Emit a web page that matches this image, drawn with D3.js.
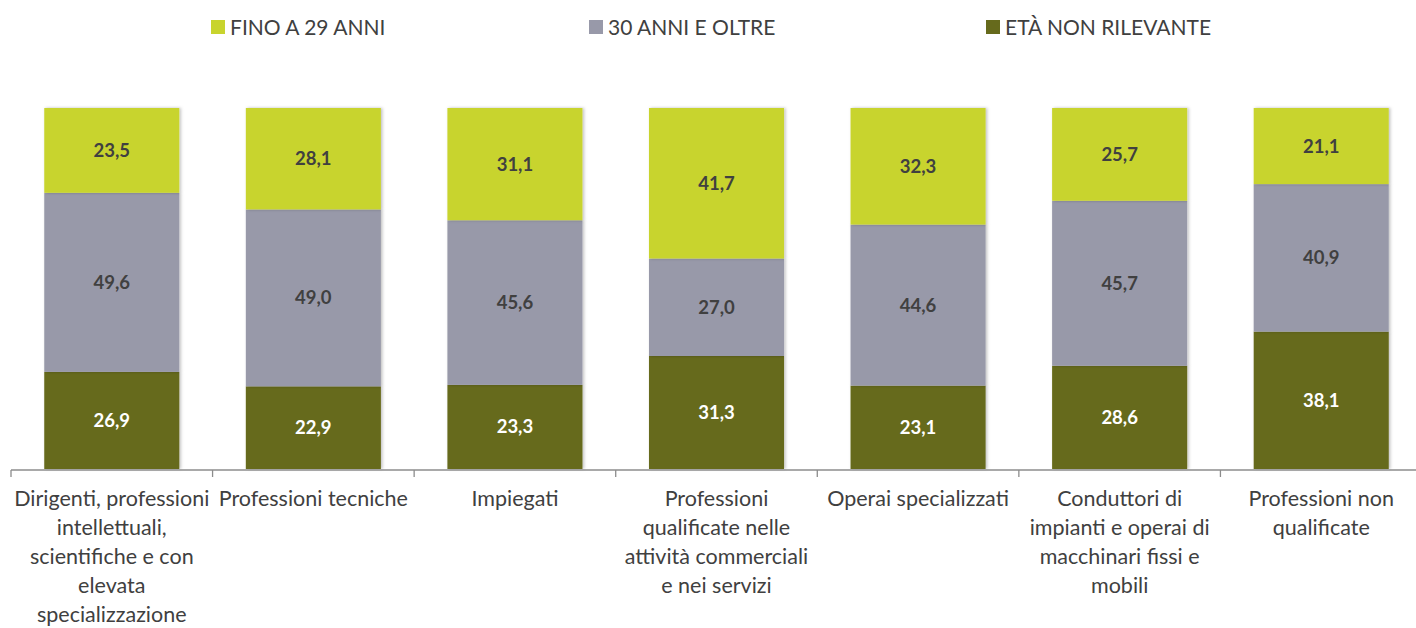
<!DOCTYPE html>
<html>
<head>
<meta charset="utf-8">
<script src="https://cdn.jsdelivr.net/npm/d3@7"></script>
<style>
  body { margin: 0; background: #fff; }
  svg { display: block; font-family: Lato, "Open Sans", sans-serif; }
</style>
</head>
<body>
<svg id="chart"></svg>
<script>
// categories (line breaks as they appear under the axis)
const categories = [
    "Dirigenti, professioni\nintellettuali,\nscientifiche e con\nelevata\nspecializzazione",
    "Professioni tecniche",
    "Impiegati",
    "Professioni\nqualificate nelle\nattività commerciali\ne nei servizi",
    "Operai specializzati",
    "Conduttori di\nimpianti e operai di\nmacchinari fissi e\nmobili",
    "Professioni non\nqualificate"
];

const seriesNames = ["ETÀ NON RILEVANTE", "30 ANNI E OLTRE", "FINO A 29 ANNI"];
const legendOrder = ["FINO A 29 ANNI", "30 ANNI E OLTRE", "ETÀ NON RILEVANTE"];

// values, stacked from the bottom
const etaNonRilevante = [26.9, 22.9, 23.3, 31.3, 23.1, 28.6, 38.1];
const trentaEOltre = [49.6, 49.0, 45.6, 27.0, 44.6, 45.7, 40.9];
const finoA29 = [23.5, 28.1, 31.1, 41.7, 32.3, 25.7, 21.1];

const colors = {
    "FINO A 29 ANNI": "#c8d42e",
    "30 ANNI E OLTRE": "#9899a9",
    "ETÀ NON RILEVANTE": "#666a1c"
};
const labelColors = {
    "FINO A 29 ANNI": "#404040",
    "30 ANNI E OLTRE": "#404040",
    "ETÀ NON RILEVANTE": "#ffffff"
};

const width = 1416, height = 628;
const marginLeft = 11, marginRight = -6, marginTop = 108, marginBottom = 159;

const svg = d3.select("#chart")
    .attr("width", width)
    .attr("height", height);

const rows = categories.map((c, i) => ({
    cat: c,
    "ETÀ NON RILEVANTE": etaNonRilevante[i],
    "30 ANNI E OLTRE": trentaEOltre[i],
    "FINO A 29 ANNI": finoA29[i]
}));

// normalise to 100 like the original
const stack = d3.stack().keys(seriesNames).offset(d3.stackOffsetExpand);
const stacked = stack(rows);

const x = d3.scaleBand()
    .domain(categories)
    .range([marginLeft, width - marginRight])
    .paddingInner(0.33)
    .paddingOuter(0.165);

const y = d3.scaleLinear()
    .domain([0, 1])
    .range([height - marginBottom, marginTop]);

// soft shadow like the original
const defs = svg.append("defs");
const f = defs.append("filter").attr("id", "shadow")
    .attr("x", "-10%").attr("y", "-10%").attr("width", "120%").attr("height", "120%");
f.append("feDropShadow").attr("dx", 1.5).attr("dy", 0).attr("stdDeviation", 1.5)
    .attr("flood-color", "#000").attr("flood-opacity", 0.25);

const layers = svg.append("g")
  .selectAll("g")
  .data(stacked)
  .join("g")
    .attr("fill", d => colors[d.key]);

layers.selectAll("rect")
  .data(d => d)
  .join("rect")
    .attr("x", d => x(d.data.cat))
    .attr("width", x.bandwidth())
    .attr("y", d => y(d[1]))
    .attr("height", d => y(d[0]) - y(d[1]))
    .attr("filter", "url(#shadow)");

// value labels
stacked.forEach(layer => {
    svg.append("g")
      .selectAll("text")
      .data(layer)
      .join("text")
        .attr("x", d => x(d.data.cat) + x.bandwidth() / 2)
        .attr("y", d => y((d[0] + d[1]) / 2))
        .attr("dy", "0.35em")
        .attr("text-anchor", "middle")
        .attr("font-size", 18.5)
        .attr("font-weight", "bold")
        .attr("fill", labelColors[layer.key])
        .text(d => d3.format(".1f")(d.data[layer.key]).replace(".", ","));
});

// x axis with ticks between categories
const axisY = height - marginBottom + 1;
const step = x.step();
const axisG = svg.append("g").attr("stroke", "#8c8c8c").attr("stroke-width", 1.3);
axisG.append("line")
    .attr("x1", marginLeft).attr("x2", width)
    .attr("y1", axisY).attr("y2", axisY);
axisG.selectAll("line.tick")
  .data(d3.range(categories.length + 1))
  .join("line")
    .attr("class", "tick")
    .attr("x1", i => marginLeft + i * step)
    .attr("x2", i => marginLeft + i * step)
    .attr("y1", axisY)
    .attr("y2", axisY + 7);

// category labels
const catLabels = svg.append("g")
  .selectAll("text")
  .data(categories)
  .join("text")
    .attr("x", d => x(d) + x.bandwidth() / 2)
    .attr("y", axisY + 36)
    .attr("text-anchor", "middle")
    .attr("font-size", 21.5)
    .attr("fill", "#404040");
catLabels.selectAll("tspan")
  .data(d => d.split("\n").map(t => ({ t, cx: x(d) + x.bandwidth() / 2 })))
  .join("tspan")
    .attr("x", d => d.cx)
    .attr("dy", (d, i) => i === 0 ? 0 : 29)
    .text(d => d.t);

// legend
const legendX = { "FINO A 29 ANNI": 211, "30 ANNI E OLTRE": 589, "ETÀ NON RILEVANTE": 986 };
const legend = svg.append("g")
  .selectAll("g")
  .data(legendOrder)
  .join("g")
    .attr("transform", d => `translate(${legendX[d]},20)`);
legend.append("rect")
    .attr("width", 14).attr("height", 14)
    .attr("fill", d => colors[d]);
legend.append("text")
    .attr("x", 19).attr("y", 14.5)
    .attr("font-size", 21)
    .attr("fill", "#404040")
    .text(d => d);
</script>
</body>
</html>
